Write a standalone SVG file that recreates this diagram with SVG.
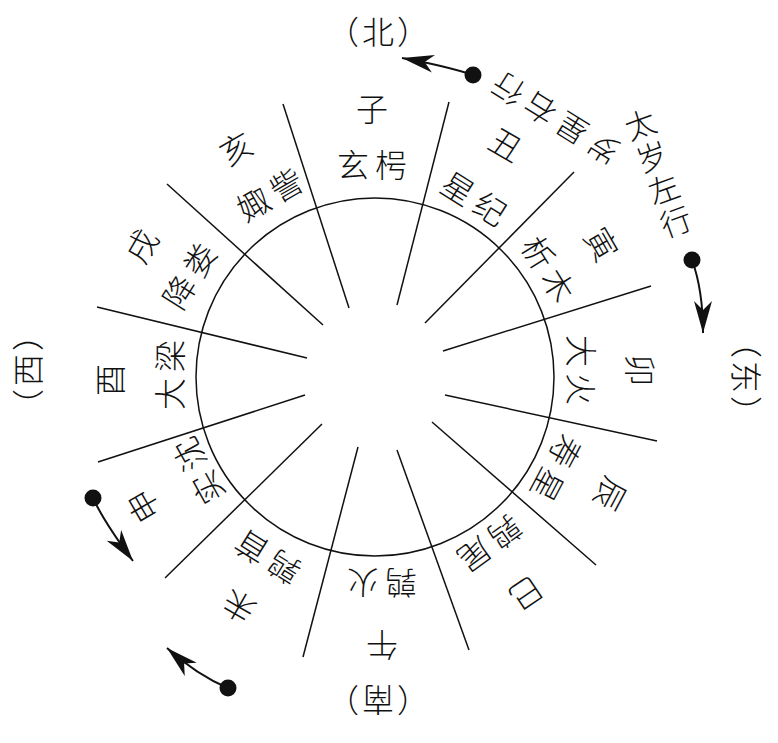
<svg xmlns="http://www.w3.org/2000/svg" width="778" height="743" viewBox="0 0 778 743">
<style>
text{font-family:"Noto Sans CJK SC","Noto Sans CJK JP",sans-serif;font-weight:300;fill:#111;text-anchor:middle;dominant-baseline:central;}
.b{font-size:32px;}
.n{font-size:32px;letter-spacing:6px;}
.d{font-size:32px;letter-spacing:3px;}
.c{font-size:31px;}
.ln{stroke:#111;stroke-width:1.5;fill:none;}
.arr{stroke:#111;stroke-width:2;fill:none;marker-end:url(#ah);}
.dot{fill:#111;}
</style>
<defs>
<marker id="ah" markerUnits="userSpaceOnUse" markerWidth="34" markerHeight="20" refX="32" refY="10" orient="auto" viewBox="0 0 34 20">
<path d="M32,10 L0,1 L9,10 L0,19 Z" fill="#111"/>
</marker>
</defs>
<rect width="778" height="743" fill="#fff"/>
<g id="wheel">
<circle class="ln" cx="375" cy="377" r="179"/>
</g>
<g id="dividers" class="ln">
<line x1="349" y1="308" x2="283" y2="104"/>
<line x1="397" y1="305" x2="449" y2="102"/>
<line x1="425" y1="323" x2="574" y2="172"/>
<line x1="443" y1="351" x2="651" y2="286"/>
<line x1="445" y1="395" x2="657" y2="441"/>
<line x1="432" y1="422" x2="596" y2="565"/>
<line x1="397" y1="450" x2="469" y2="650"/>
<line x1="358" y1="447" x2="303" y2="657"/>
<line x1="322" y1="424" x2="165" y2="578"/>
<line x1="305" y1="395" x2="98" y2="462"/>
<line x1="307" y1="358" x2="97" y2="307"/>
<line x1="323" y1="325" x2="167" y2="184"/>
</g>
<g id="branches">
<g id="b-zi"><text class="b" transform="translate(372,107) rotate(0)">子</text></g>
<g id="b-chou"><text class="b" transform="translate(507,143) rotate(30)">丑</text></g>
<g id="b-yin"><text class="b" transform="translate(603,243) rotate(60)">寅</text></g>
<g id="b-mao"><text class="b" transform="translate(642,370) rotate(90)">卯</text></g>
<g id="b-chen"><text class="b" transform="translate(612,495) rotate(118)">辰</text></g>
<g id="b-si"><text class="b" transform="translate(527,595) rotate(146)">巳</text></g>
<g id="b-wu"><text class="b" transform="translate(382,647) rotate(180)">午</text></g>
<g id="b-wei"><text class="b" transform="translate(238,608) rotate(210)">未</text></g>
<g id="b-shen"><text class="b" transform="translate(142,507) rotate(240)">申</text></g>
<g id="b-you"><text class="b" transform="translate(108,380) rotate(270)">酉</text></g>
<g id="b-xu"><text class="b" transform="translate(140,245) rotate(300)">戌</text></g>
<g id="b-hai"><text class="b" transform="translate(235,147) rotate(330)">亥</text></g>
</g>
<g id="stations">
<g id="s-xuanxiao"><text class="n" x="3" transform="translate(372,163) rotate(0)">玄枵</text></g>
<g id="s-xingji"><text class="n" x="3" transform="translate(475,197) rotate(32)">星纪</text></g>
<g id="s-ximu"><text class="n" x="3" transform="translate(550,268) rotate(58)">析木</text></g>
<g id="s-dahuo"><text class="n" x="3" transform="translate(583,370) rotate(90)">大火</text></g>
<g id="s-shouxing"><text class="n" x="3" transform="translate(558,469) rotate(118)">寿星</text></g>
<g id="s-chunwei"><text class="n" x="3" transform="translate(491,545) rotate(144)">鹑尾</text></g>
<g id="s-chunhuo"><text class="n" x="3" transform="translate(382,585) rotate(180)">鹑火</text></g>
<g id="s-chunshou"><text class="n" x="3" transform="translate(267,559) rotate(212)">鹑首</text></g>
<g id="s-shishen"><text class="n" x="3" transform="translate(197,472) rotate(241)">实沈</text></g>
<g id="s-daliang"><text class="n" x="3" transform="translate(168,375) rotate(270)">大梁</text></g>
<g id="s-jianglou"><text class="n" x="3" transform="translate(188,275) rotate(302)">降娄</text></g>
<g id="s-juzi"><text class="n" x="3" transform="translate(269,193) rotate(330)">娵訾</text></g>
</g>
<g id="directions">
<g id="d-north"><text class="d" x="1.5" transform="translate(378,30) rotate(0)">（北）</text></g>
<g id="d-east"><text class="d" x="1.5" transform="translate(748,377) rotate(90)">（东）</text></g>
<g id="d-south"><text class="d" x="1.5" transform="translate(378,702) rotate(180)">（南）</text></g>
<g id="d-west"><text class="d" x="1.5" transform="translate(26,370) rotate(-90)">（西）</text></g>
</g>
<g id="motion-labels">
<g id="l-suixing"><text class="c" x="3.25" style="letter-spacing:6.5px" transform="translate(555,120) rotate(212)">岁星右行</text></g>
<g id="l-taisui"><text class="c" y="1.75" style="writing-mode:vertical-rl;letter-spacing:3.5px" transform="translate(658,173) rotate(-20)">太岁左行</text></g>
</g>
<g id="connectors">
<path class="arr" d="M473,75 Q446,66 402,58"/>
<path class="arr" d="M692,260 Q703,290 703,333"/>
<path class="arr" d="M93,498 Q104,522 133,561"/>
<path class="arr" d="M228,688 Q197,675 167,648"/>
<circle class="dot" cx="473" cy="75" r="8.5"/>
<circle class="dot" cx="692" cy="260" r="8.5"/>
<circle class="dot" cx="93" cy="498" r="8.5"/>
<circle class="dot" cx="228" cy="688" r="8.5"/>
</g>
</svg>
